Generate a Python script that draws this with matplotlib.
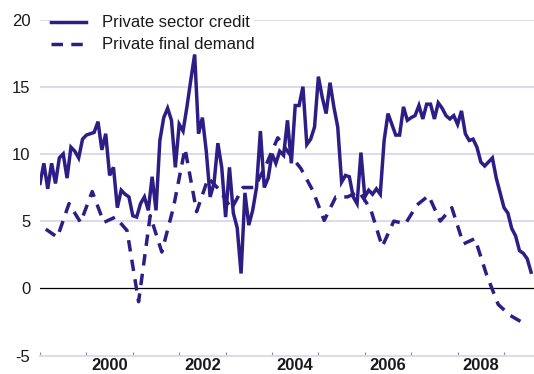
import numpy as np
import matplotlib
matplotlib.use("Agg")
import matplotlib.pyplot as plt

# monthly private sector credit growth, Jan 1999 onwards
credit = [7.8, 9.3, 7.4, 9.3, 7.8, 9.7, 10.0, 8.2, 10.5, 10.2, 9.7, 11.1,
          11.4, 11.5, 11.6, 12.4, 10.3, 11.5, 8.4, 9.0, 6.0, 7.3, 7.0, 6.8,
          5.4, 5.3, 6.3, 6.8, 5.8, 8.3, 5.8, 11.0, 12.7, 13.4, 12.5, 9.0,
          12.2, 11.7, 13.5, 15.5, 17.4, 11.5, 12.7, 10.2, 6.8, 7.8, 10.8, 9.0,
          5.3, 9.0, 5.6, 4.5, 1.1, 7.1, 4.7, 5.8, 7.5, 11.7, 7.5, 8.2,
          10.0, 9.3, 10.2, 9.9, 12.5, 9.3, 13.6, 13.6, 15.0, 10.7, 11.1, 12.0,
          15.75, 14.2, 13.0, 15.3, 13.5, 12.0, 7.9, 8.4, 8.3, 6.8, 6.3, 10.1,
          6.8, 7.3, 7.0, 7.4, 7.0, 11.0, 13.0, 12.2, 11.4, 11.4, 13.5, 12.5,
          12.7, 12.85, 13.6, 12.6, 13.7, 13.7, 12.6, 13.8, 13.4, 12.85, 12.6, 12.85,
          12.2, 13.2, 11.5, 11.0, 11.1, 10.5, 9.4, 9.1, 9.4, 9.7, 8.2, 7.1,
          6.0, 5.6, 4.45, 3.9, 2.8, 2.6, 2.2, 1.2]

# quarterly private final demand growth, Q1 1999 onwards
demand = [4.4, 3.8, 6.3, 4.9, 7.2, 4.9, 5.3, 4.3, -1.0, 5.4, 2.7, 6.0,
          10.4, 5.7, 8.2, 7.3, 5.9, 7.5, 7.5, 9.2, 11.2, 10.0, 8.9, 7.3,
          5.05, 6.8, 6.8, 7.2, 5.9, 3.1, 5.0, 4.8, 6.2, 6.9, 5.0, 6.0,
          3.3, 3.7, 1.0, -1.2, -2.0, -2.5]

labels = ["Private sector credit", "Private final demand"]
year_labels = ["2000", "2002", "2004", "2006", "2008"]
ytick_vals = [-5, 0, 5, 10, 15, 20]

credit_x = 1999 + np.arange(len(credit)) / 12.0
demand_x = 1999.125 + np.arange(len(demand)) * 0.25

navy = "#2d1e86"
grid_col = "#dcd9ee"

plt.rcParams["font.family"] = ["Liberation Sans", "DejaVu Sans"]

fig = plt.figure(figsize=(5.34, 3.74), dpi=100)
ax = fig.add_axes([40 / 534, 18.5 / 374, 494 / 534, 336 / 374])

for v in [5, 10, 15, 20]:
    ax.axhline(v, color=grid_col, lw=1.4, zorder=1)
ax.axhline(0, color="black", lw=0.9, zorder=2)

ax.plot(credit_x, credit, color=navy, lw=2.5, solid_joinstyle="miter",
        label=labels[0], zorder=3)
ax.plot(demand_x, demand, color=navy, lw=2.5, linestyle=(0, (3.3, 2.4)),
        dash_capstyle="butt", label=labels[1], zorder=3)

ax.set_xlim(1999.0, 1999 + 494 / 46.4)
ax.set_ylim(-5, 20)

for s in ["left", "right", "top"]:
    ax.spines[s].set_visible(False)
ax.spines["bottom"].set_color(grid_col)
ax.spines["bottom"].set_linewidth(1.4)

ax.set_yticks(ytick_vals)
ax.set_yticklabels([str(v) for v in ytick_vals])
ax.tick_params(axis="y", length=0, pad=7, labelsize=12, labelcolor="#1a1a1a")

ax.set_xticks(np.arange(1999, 2010))
ax.set_xticklabels([])
ax.tick_params(axis="x", which="major", direction="in", length=3,
               color="#8c8c9c", width=0.8)
ax.set_xticks([int(y) + 0.5 for y in year_labels], minor=True)
ax.set_xticklabels(year_labels, minor=True, fontweight="bold", fontsize=12)
ax.tick_params(axis="x", which="minor", length=0, pad=2, labelcolor="#1a1a1a")

leg = ax.legend(loc="upper left", bbox_to_anchor=(0.0217, 1.012),
                frameon=True, fontsize=12, handlelength=2.1,
                handletextpad=0.95, labelspacing=0.42, borderpad=0.0,
                borderaxespad=0.0)
leg.get_frame().set_facecolor("white")
leg.get_frame().set_edgecolor("none")
leg.get_frame().set_alpha(1)
for t in leg.get_texts():
    t.set_color("#1a1a1a")

fig.savefig("out.png", dpi=100)
